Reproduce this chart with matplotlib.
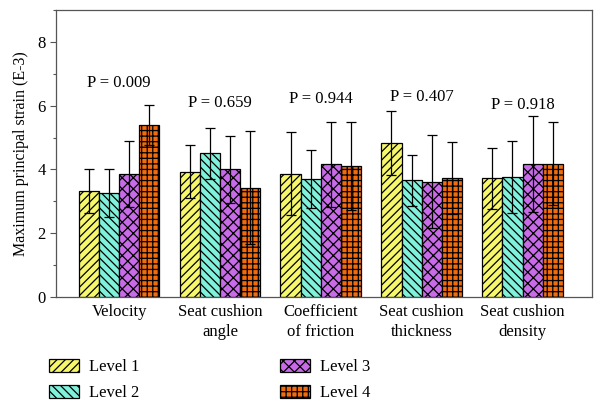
import numpy as np
import matplotlib.pyplot as plt
from matplotlib.patches import Patch
from matplotlib.ticker import MultipleLocator

plt.rcParams['font.family'] = 'serif'
plt.rcParams['font.serif'] = ['Liberation Serif', 'DejaVu Serif']
plt.rcParams['hatch.linewidth'] = 0.9

categories = ['Velocity', 'Seat cushion\nangle', 'Coefficient\nof friction',
              'Seat cushion\nthickness', 'Seat cushion\ndensity']
levels = ['Level 1', 'Level 2', 'Level 3', 'Level 4']

level1 = [3.32, 3.93, 3.87, 4.83, 3.72]
level2 = [3.27, 4.50, 3.70, 3.66, 3.75]
level3 = [3.85, 4.00, 4.16, 3.61, 4.17]
level4 = [5.39, 3.43, 4.11, 3.74, 4.18]

err1 = [0.70, 0.83, 1.30, 1.00, 0.95]
err2 = [0.75, 0.80, 0.91, 0.80, 1.13]
err3 = [1.03, 1.06, 1.33, 1.46, 1.51]
err4 = [0.64, 1.76, 1.38, 1.13, 1.30]

p_labels = ['P = 0.009', 'P = 0.659', 'P = 0.944', 'P = 0.407', 'P = 0.918']
p_y = [6.7, 6.08, 6.2, 6.28, 6.02]

colors = ['#f7f76c', '#80f2dc', '#c96be8', '#f26b0c']
hatches = ['////', '\\\\\\\\', 'xxx', '+++']

fig = plt.figure(figsize=(6.03, 4.12), dpi=100)
ax = fig.add_axes([0.093, 0.279, 0.889, 0.697])

x = np.arange(len(categories))
w = 0.2
values = [level1, level2, level3, level4]
errs = [err1, err2, err3, err4]
for i in range(4):
    ax.bar(x + (i - 1.5) * w, values[i], w, color=colors[i], edgecolor='black',
           hatch=hatches[i], linewidth=0.9, yerr=errs[i], capsize=3.5,
           error_kw=dict(elinewidth=0.9, capthick=0.9, ecolor='black'),
           label=levels[i])

for xi, lab, py in zip(x, p_labels, p_y):
    ax.text(xi, py, lab, ha='center', va='center', fontsize=12)

ax.set_xlim(-0.625, 4.69)
ax.set_ylim(0, 9)
ax.set_xticks(x)
ax.set_xticklabels(categories, fontsize=12, linespacing=1.3)
ax.tick_params(axis='x', length=0, pad=5)
ax.set_yticks([0, 2, 4, 6, 8])
ax.yaxis.set_minor_locator(MultipleLocator(1))
ax.tick_params(axis='y', labelsize=12, length=4, width=0.8, color='#555555')
ax.tick_params(axis='y', which='minor', length=2, width=0.8, color='#555555')
ax.set_ylabel('Maximum principal strain (E-3)', fontsize=11.5, labelpad=6)
for s in ax.spines.values():
    s.set_color('#555555')
    s.set_linewidth(0.9)

handles = [Patch(facecolor=colors[i], edgecolor='black', hatch=hatches[i],
                 linewidth=0.9, label=levels[i]) for i in range(4)]
fig.legend(handles=handles, ncol=2, loc='upper left',
           bbox_to_anchor=(0.057, 0.165), frameon=False, fontsize=12,
           handlelength=1.8, handleheight=0.8, handletextpad=0.6,
           columnspacing=8.4, labelspacing=0.6)

fig.savefig('out.png', dpi=100)
